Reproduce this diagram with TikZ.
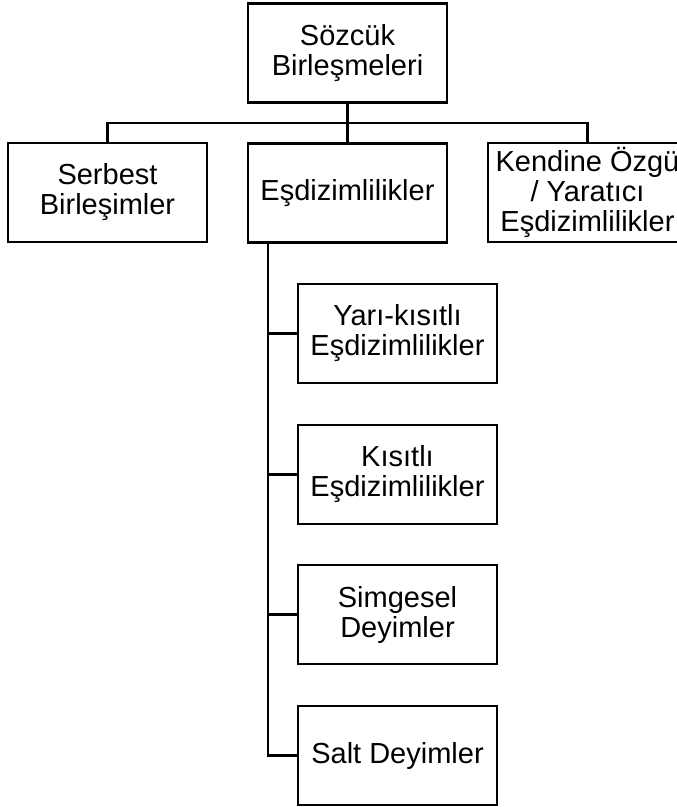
\documentclass[tikz,border=0pt]{standalone}
\usepackage{fontspec}
\setmainfont{Liberation Sans}
\begin{document}
\begin{tikzpicture}[x=1pt,y=-1pt,
  box/.style={draw, line width=2.3pt, minimum width=199pt, minimum height=99pt,
    inner sep=0pt, outer sep=0pt, align=center,
    font=\fontsize{29}{30}\selectfont},
  link/.style={line width=2.3pt},
  trunkline/.style={line width=2.8pt}]
  \useasboundingbox (0,0) rectangle (677,807);
  \begin{scope}
  \clip (0,0) rectangle (677,807);
  % root
  \node[box] (root) at (347.5,53) {Sözcük\\Birleşmeleri};
  % first level
  \node[box] (ser) at (107.5,192.5) {Serbest\\Birleşimler};
  \node[box] (esd) at (347.5,193) {Eşdizimlilikler};
  \node[box] (ken) at (587.5,192.5) {Kendine Özgü\\/ Yaratıcı\\Eşdizimlilikler};
  % sub-types of collocations
  \node[box] (yari) at (397.5,333.5) {Yarı-kısıtlı\\Eşdizimlilikler};
  \node[box] (kis) at (397.5,474.5) {Kısıtlı\\Eşdizimlilikler};
  \node[box] (sim) at (397.5,614.5) {Simgesel\\Deyimler};
  \node[box] (salt) at (397.5,755.5) {Salt Deyimler};
  % bus under the root
  \coordinate (bus) at (347.5,123);
  \draw[link] (root.south) -- (bus);
  \draw[link] (ser.north) |- (bus) -| (ken.north);
  \draw[link] (bus) -- (esd.north);
  % trunk on the left of the sub-types
  \coordinate (trunk) at ([xshift=20pt]esd.south west);
  \draw[trunkline] (trunk) |- (salt.west);
  \draw[link] (trunk |- yari.west) -- (yari.west);
  \draw[link] (trunk |- kis.west) -- (kis.west);
  \draw[link] (trunk |- sim.west) -- (sim.west);
  \end{scope}
\end{tikzpicture}
\end{document}
